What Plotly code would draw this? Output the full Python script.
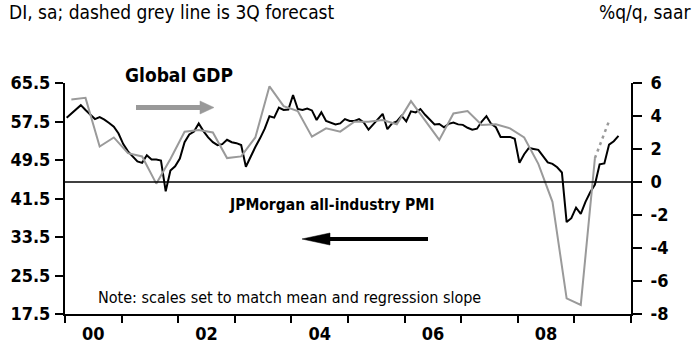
import plotly.graph_objects as go

# ---------------- data ----------------
# JPMorgan all-industry PMI, monthly, Jan 2000 .. Oct 2009 (left axis)
pmi_start_year = 2000
pmi_values = [
    58.3, 59.2, 60.2, 60.9, 59.9, 59.0, 58.0, 58.4, 57.9, 57.2, 56.4, 55.0,   # 2000
    52.8, 51.3, 50.2, 49.2, 48.9, 50.5, 49.6, 49.6, 49.4, 43.0, 47.3, 48.2,   # 2001
    49.8, 53.2, 54.8, 55.4, 57.1, 55.5, 54.2, 53.2, 52.6, 52.8, 53.7, 53.2,   # 2002
    53.0, 52.6, 48.1, 50.2, 52.2, 54.0, 56.0, 58.6, 58.3, 60.4, 59.9, 60.0,   # 2003
    63.0, 60.1, 59.9, 60.2, 59.8, 57.8, 59.4, 57.6, 57.2, 56.9, 57.1, 58.0,   # 2004
    57.6, 57.6, 58.0, 57.3, 55.8, 56.9, 57.8, 59.1, 55.9, 57.1, 57.5, 58.7,   # 2005
    57.5, 59.6, 59.4, 60.1, 58.9, 58.0, 56.9, 57.0, 56.3, 57.0, 57.3, 56.9,   # 2006
    56.8, 56.2, 55.8, 56.0, 57.5, 58.6, 57.0, 56.3, 54.3, 54.3, 54.3, 53.9,   # 2007
    48.9, 50.7, 52.0, 51.8, 51.6, 50.3, 49.0, 48.7, 48.0, 46.9, 36.6, 37.4,   # 2008
    39.6, 38.3, 40.8, 42.8, 44.4, 48.6, 48.8, 52.7, 53.4, 54.5,               # 2009
]

# Global GDP, %q/q saar, quarterly, 1Q00 .. 2Q09 (right axis)
gdp_values = [
    5.0, 5.1, 2.15, 2.7,     # 2000
    1.75, 1.55, -0.1, 1.4,   # 2001
    3.05, 3.15, 3.0, 1.45,   # 2002
    1.55, 2.7, 5.8, 4.6,     # 2003
    4.3, 2.75, 3.25, 3.05,   # 2004
    3.65, 3.65, 3.75, 3.5,   # 2005
    4.9, 3.75, 2.55, 4.15,   # 2006
    4.3, 3.45, 3.5, 3.25,    # 2007
    2.7, 1.1, -1.2, -7.05,   # 2008
    -7.45, 1.45,             # 2009
]
gdp_forecast_3q09 = 3.7

x_tick_years = list(range(2000, 2011))
x_label_text = ["00", "02", "04", "06", "08"]
left_ticks = [17.5, 25.5, 33.5, 41.5, 49.5, 57.5, 65.5]
right_ticks = [-8, -6, -4, -2, 0, 2, 4, 6]

# ---------------- positions (time axis in fractional years) ----------------
MONTH_OFFSET = 0.35  # points plotted a little after the start of each month
pmi_x = [pmi_start_year + (i + MONTH_OFFSET) / 12 for i in range(len(pmi_values))]
gdp_x = [pmi_start_year + (3 * i + 1 + MONTH_OFFSET) / 12 for i in range(len(gdp_values) + 1)]

# ---------------- layout geometry ----------------
W, H = 699, 345
L, R, T, B = 65, 68, 83, 31
PW, PH = W - L - R, H - T - B


def xp(px):
    return (px - L) / PW


def yp(py):
    return (H - B - py) / PH


FONT = "Liberation Sans Narrow, Arial Narrow, DejaVu Sans Condensed, Liberation Sans, sans-serif"
GREY = "#9a9a9a"

fig = go.Figure()

fig.add_trace(go.Scatter(
    x=gdp_x[:-1], y=gdp_values, mode="lines", yaxis="y2",
    line=dict(color=GREY, width=2), showlegend=False, hoverinfo="skip"))
fig.add_trace(go.Scatter(
    x=gdp_x[-2:], y=[gdp_values[-1], gdp_forecast_3q09], mode="lines", yaxis="y2",
    line=dict(color=GREY, width=2.5, dash="3px,4px"), showlegend=False, hoverinfo="skip"))
fig.add_trace(go.Scatter(
    x=pmi_x, y=pmi_values, mode="lines", yaxis="y",
    line=dict(color="black", width=2), showlegend=False, hoverinfo="skip"))

shapes = []
# zero line of the GDP axis
shapes.append(dict(type="line", xref="paper", yref="y2", x0=0, x1=1, y0=0, y1=0,
                   line=dict(color="black", width=1.5)))


def arrow(x_tail, x_tip, y, shaft, head_len, head_h, color):
    d = 1 if x_tip > x_tail else -1
    base = x_tip - d * head_len
    out = [dict(type="line", xref="paper", yref="paper",
                x0=xp(x_tail), x1=xp(base), y0=yp(y), y1=yp(y),
                line=dict(color=color, width=shaft))]
    path = "M {:.4f} {:.4f} L {:.4f} {:.4f} L {:.4f} {:.4f} Z".format(
        xp(x_tip), yp(y), xp(base), yp(y - head_h / 2), xp(base), yp(y + head_h / 2))
    out.append(dict(type="path", xref="paper", yref="paper", path=path,
                    fillcolor=color, line=dict(color=color, width=0.5)))
    return out


shapes += arrow(136, 214, 107.5, 5, 14, 13, "#999999")
shapes += arrow(428, 302, 239, 4, 28, 12, "black")

annotations = [
    dict(text="DI, sa; dashed grey line is 3Q forecast", x=xp(7), y=yp(12),
         xanchor="left", yanchor="middle", font=dict(size=19, color="black", family=FONT)),
    dict(text="%q/q, saar", x=xp(693), y=yp(12),
         xanchor="right", yanchor="middle", font=dict(size=19, color="black", family=FONT)),
    dict(text="<b>Global GDP</b>", x=xp(179), y=yp(75),
         xanchor="center", yanchor="middle", font=dict(size=19, color="black", family=FONT)),
    dict(text="<b>JPMorgan all-industry PMI</b>", x=xp(331), y=yp(205),
         xanchor="center", yanchor="middle", font=dict(size=15.5, color="black", family=FONT)),
    dict(text="Note: scales set to match mean and regression slope", x=xp(289), y=yp(297),
         xanchor="center", yanchor="middle", font=dict(size=16, color="black", family=FONT)),
]
for a in annotations:
    a.update(xref="paper", yref="paper", showarrow=False)

TICKFONT = dict(size=18, family=FONT, color="black")

fig.update_layout(
    width=W, height=H,
    margin=dict(l=L, r=R, t=T, b=B, pad=0, autoexpand=False),
    paper_bgcolor="white", plot_bgcolor="white",
    font=dict(family=FONT, color="black"),
    shapes=shapes, annotations=annotations,
    xaxis=dict(
        range=[2000, 2010], showgrid=False, zeroline=False, automargin=False,
        tickmode="array", tickvals=[y + 0.5 for y in x_tick_years[0:10:2]],
        ticktext=["<b>{}</b>".format(t) for t in x_label_text],
        ticks="outside", ticklen=2, tickcolor="rgba(0,0,0,0)", tickfont=TICKFONT,
        showline=True, linecolor="black", linewidth=2,
        minor=dict(tickmode="array", tickvals=x_tick_years, ticks="outside",
                   ticklen=7, tickwidth=1.5, tickcolor="black", showgrid=False),
    ),
    yaxis=dict(
        range=[17.5, 65.5], showgrid=False, zeroline=False, automargin=False,
        tickmode="array", tickvals=left_ticks,
        ticktext=["<b>{:.1f}</b>".format(v) for v in left_ticks],
        ticks="outside", ticklen=8, tickwidth=1.5, tickcolor="black",
        tickfont=TICKFONT, ticklabelstandoff=1,
        showline=True, linecolor="black", linewidth=2,
    ),
    yaxis2=dict(
        range=[-8, 6], overlaying="y", side="right", showgrid=False, zeroline=False,
        automargin=False,
        tickmode="array", tickvals=right_ticks,
        ticktext=["<b>{}</b>".format(v) for v in right_ticks],
        ticks="outside", ticklen=9, tickwidth=1.5, tickcolor="black",
        tickfont=TICKFONT, ticklabelstandoff=5,
        showline=True, linecolor="black", linewidth=2,
    ),
)

fig.write_html("out.html")
